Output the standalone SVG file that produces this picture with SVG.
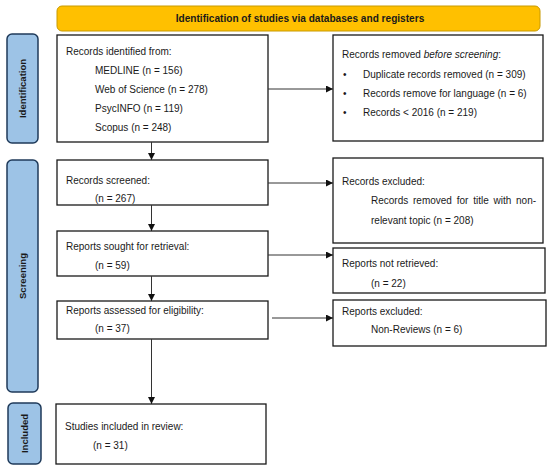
<svg xmlns="http://www.w3.org/2000/svg" width="550" height="467" viewBox="0 0 550 467">
<style>
.bg{fill:#ffffff}
.box{fill:#ffffff;stroke:#1a1a1a;stroke-width:1.3}
.tab{fill:#9dc3e6;stroke:#1f3a5a;stroke-width:1.5}
.banner{fill:#ffc000;stroke:#c89a00;stroke-width:1}
.t{font-family:"Liberation Sans",Arial,sans-serif;font-size:10px;fill:#1a1a1a}
.b{font-family:"Liberation Sans",Arial,sans-serif;font-size:9.5px;font-weight:bold;fill:#1a1a1a}
.bb{font-family:"Liberation Sans",Arial,sans-serif;font-size:10.1px;font-weight:bold;fill:#1a1a1a}
.c{stroke:#333333;stroke-width:1;fill:none;marker-end:url(#ah)}
</style>
<defs>
<marker id="ah" viewBox="0 0 10 10" refX="10" refY="5" markerWidth="7" markerHeight="7" markerUnits="userSpaceOnUse" orient="auto">
<path d="M0,0 L10,5 L0,10 z" fill="#111111"/>
</marker>
</defs>
<rect class="bg" x="0" y="0" width="550" height="467"/>
<g id="banner">
<rect class="banner" x="57" y="6" width="483" height="25" rx="5"/>
<text class="bb" x="300" y="22" text-anchor="middle">Identification of studies via databases and registers</text>
</g>
<g id="tab-identification">
<rect class="tab" x="7" y="34" width="31" height="109" rx="5"/>
<text class="b" transform="translate(26,88.5) rotate(-90)" text-anchor="middle">Identification</text>
</g>
<g id="tab-screening">
<rect class="tab" x="7" y="160" width="31" height="232" rx="5"/>
<text class="b" transform="translate(26,276) rotate(-90)" text-anchor="middle">Screening</text>
</g>
<g id="tab-included">
<rect class="tab" x="8" y="403" width="33" height="61" rx="5"/>
<text class="b" transform="translate(28,433.5) rotate(-90)" text-anchor="middle">Included</text>
</g>
<g id="records-identified">
<rect class="box" x="57" y="35" width="211" height="107"/>
<text class="t" x="66" y="55">Records identified from:</text>
<text class="t" x="95" y="74">MEDLINE (n = 156)</text>
<text class="t" x="95" y="93">Web of Science (n = 278)</text>
<text class="t" x="95" y="112">PsycINFO (n = 119)</text>
<text class="t" x="95" y="131">Scopus (n = 248)</text>
</g>
<g id="records-removed">
<rect class="box" x="333" y="35" width="210" height="106"/>
<text class="t" x="342" y="58">Records removed <tspan font-style="italic">before screening</tspan>:</text>
<text class="t" x="343" y="78">•</text>
<text class="t" x="363" y="78">Duplicate records removed (n = 309)</text>
<text class="t" x="343" y="97">•</text>
<text class="t" x="363" y="97">Records remove for language (n = 6)</text>
<text class="t" x="343" y="116">•</text>
<text class="t" x="363" y="116">Records &lt; 2016  (n = 219)</text>
</g>
<g id="records-screened">
<rect class="box" x="57" y="160" width="211" height="45"/>
<text class="t" x="66" y="184">Records screened:</text>
<text class="t" x="95" y="202">(n = 267)</text>
</g>
<g id="records-excluded">
<rect class="box" x="333" y="158" width="210" height="85"/>
<text class="t" x="342" y="185">Records excluded:</text>
<text class="t" x="371" y="204" word-spacing="2">Records removed for title with non-</text>
<text class="t" x="371" y="224">relevant topic (n = 208)</text>
</g>
<g id="reports-sought">
<rect class="box" x="57" y="231" width="211" height="45"/>
<text class="t" x="66" y="250">Reports sought for retrieval:</text>
<text class="t" x="95" y="269">(n = 59)</text>
</g>
<g id="reports-not-retrieved">
<rect class="box" x="333" y="248" width="212" height="45"/>
<text class="t" x="342" y="267">Reports not retrieved:</text>
<text class="t" x="371" y="287">(n = 22)</text>
</g>
<g id="reports-assessed">
<rect class="box" x="57" y="301" width="211" height="38"/>
<text class="t" x="66" y="313.5">Reports assessed for eligibility:</text>
<text class="t" x="95" y="332">(n = 37)</text>
</g>
<g id="reports-excluded">
<rect class="box" x="333" y="300" width="213" height="46"/>
<text class="t" x="342" y="315">Reports excluded:</text>
<text class="t" x="371" y="333">Non-Reviews (n = 6)</text>
</g>
<g id="studies-included">
<rect class="box" x="56" y="404" width="210" height="60"/>
<text class="t" x="65" y="430">Studies included in review:</text>
<text class="t" x="93" y="449">(n = 31)</text>
</g>
<g id="connectors">
<path class="c" d="M268,89 H333"/>
<path class="c" d="M151.5,142 V160"/>
<path class="c" d="M268,183 H333"/>
<path class="c" d="M151.5,205 V231"/>
<path class="c" d="M268,255 H333"/>
<path class="c" d="M151.5,276 V301"/>
<path class="c" d="M272,318 H333"/>
<path class="c" d="M151.5,339 V404"/>
</g>
</svg>
